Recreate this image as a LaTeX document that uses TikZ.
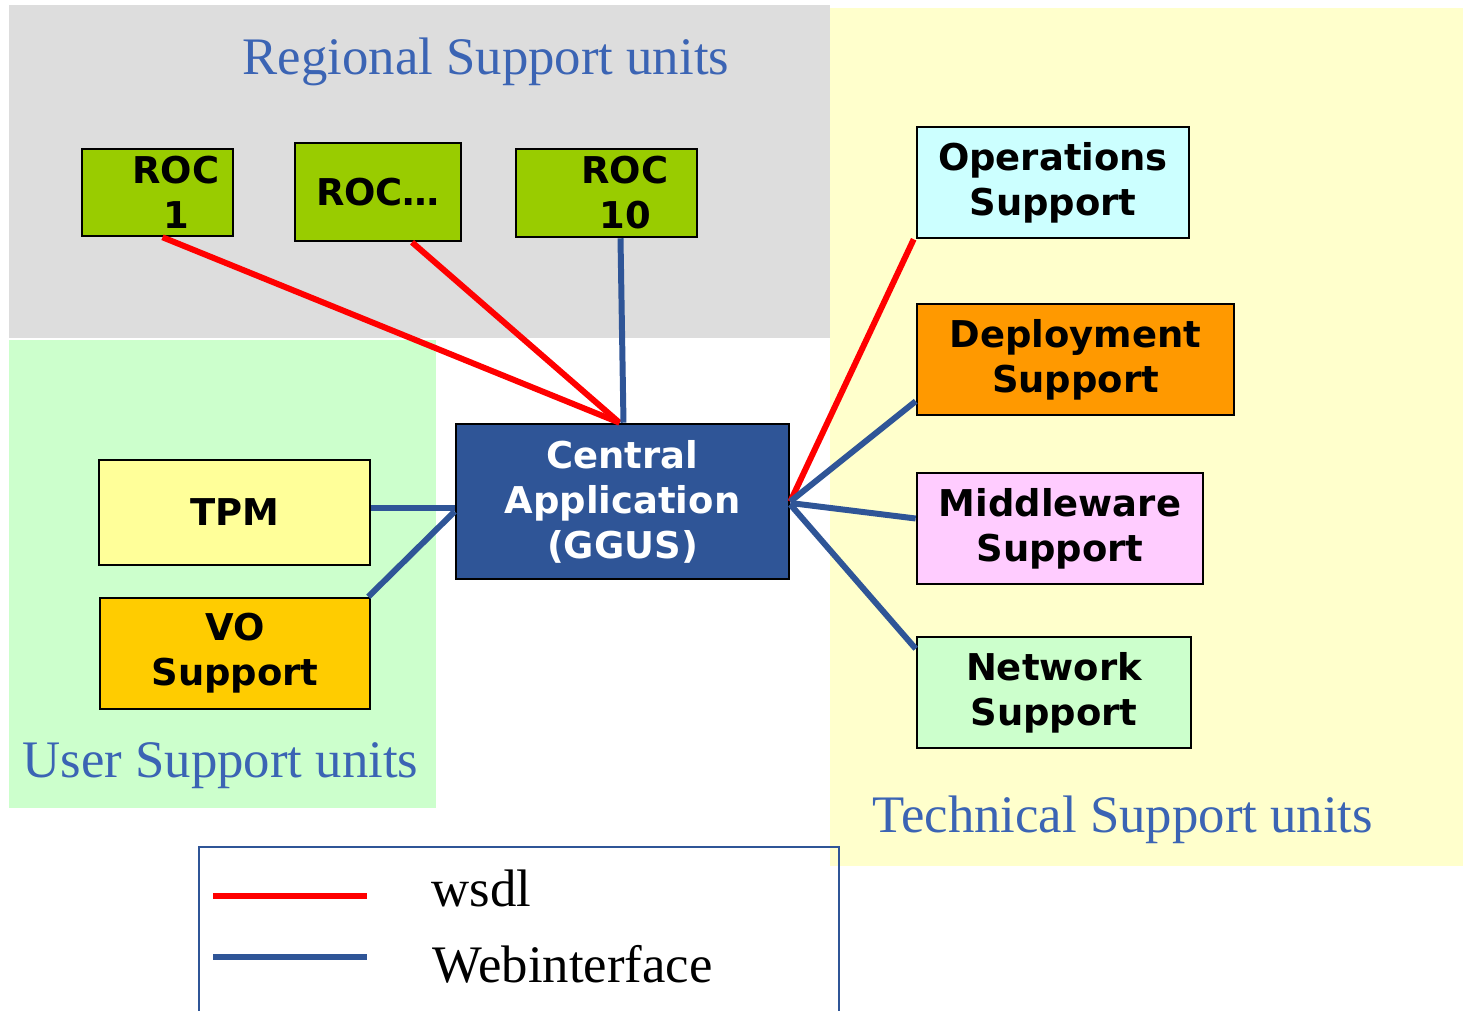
\documentclass[tikz,border=0pt]{standalone}
\usepackage{fontspec}
\setmainfont{Liberation Serif}
\newfontfamily\unitfont{DejaVu Sans}
\usepackage{tikz}
\usetikzlibrary{calc}

\definecolor{regionbg}{HTML}{DDDDDD}
\definecolor{userbg}{HTML}{CCFFCC}
\definecolor{techbg}{HTML}{FFFFCC}
\definecolor{rocgreen}{HTML}{99CC00}
\definecolor{opscyan}{HTML}{CCFFFF}
\definecolor{deporange}{HTML}{FF9900}
\definecolor{mwpink}{HTML}{FFCCFF}
\definecolor{netgreen}{HTML}{CCFFCC}
\definecolor{tpmyellow}{HTML}{FFFF99}
\definecolor{vogold}{HTML}{FFCC00}
\definecolor{ggusblue}{HTML}{2F5597}
\definecolor{titleblue}{HTML}{3B64B4}

\tikzset{
  unit/.style={draw=black, line width=0.7pt, inner sep=0pt, align=center,
    font=\unitfont\bfseries\fontsize{10.5}{12.8}\selectfont},
  roc/.style={unit, fill=rocgreen},
  roctext/.style={inner sep=0pt, align=center, font=\unitfont\bfseries\fontsize{10.5}{12.8}\selectfont},
  title/.style={text=titleblue, inner sep=0pt, anchor=base west, font=\fontsize{15}{18}\selectfont},
  legendtext/.style={inner sep=0pt, anchor=base west, font=\fontsize{15}{18}\selectfont},
  wsdl/.style={draw=red, line width=1.7pt},
  web/.style={draw=ggusblue, line width=1.7pt},
}

\begin{document}
\begin{tikzpicture}[x=0.01cm,y=-0.01cm]
  \useasboundingbox (0,0) rectangle (1468,1011);

  % support areas
  \fill[regionbg] (9,5) rectangle (830,338);
  \fill[techbg] (830,8) rectangle (1463,866);
  \fill[userbg] (9,340) rectangle (436,808);

  \draw (242,74) node[title] (regtitle) {Regional Support units};
  \draw (22,777) node[title] (usertitle) {User Support units};
  \draw (872,832) node[title] (techtitle) {Technical Support units};

  \draw (157.5,192.5) node[roc, minimum width=1.51cm, minimum height=0.87cm] (roc1) {};
  \draw (176,192.5) node[roctext] (roc1txt) {ROC\\1};
  \draw (378,192) node[roc, minimum width=1.66cm, minimum height=0.98cm] (rocdots) {ROC\ldots};
  \draw (606.5,193) node[roc, minimum width=1.81cm, minimum height=0.88cm] (roc10) {};
  \draw (625,193) node[roctext] (roc10txt) {ROC\\10};

  \draw (622.5,501.5) node[unit, fill=ggusblue, text=white, minimum width=3.33cm, minimum height=1.55cm] (ggus) {Central\\Application\\(GGUS)};

  \draw (234.5,512.5) node[unit, fill=tpmyellow, minimum width=2.71cm, minimum height=1.05cm] (tpm) {TPM};
  \draw (235,653.5) node[unit, fill=vogold, minimum width=2.70cm, minimum height=1.11cm] (vo) {VO\\Support};

  \draw (1053,182.5) node[unit, fill=opscyan, minimum width=2.72cm, minimum height=1.11cm] (ops) {Operations\\Support};
  \draw (1075.5,359.5) node[unit, fill=deporange, minimum width=3.17cm, minimum height=1.11cm] (dep) {Deployment\\Support};
  \draw (1060,528.5) node[unit, fill=mwpink, minimum width=2.86cm, minimum height=1.11cm] (mw) {Middleware\\Support};
  \draw (1054,692.5) node[unit, fill=netgreen, minimum width=2.74cm, minimum height=1.11cm] (net) {Network\\Support};

  \path[wsdl] ([xshift=0.05cm]roc1.south) edge ([xshift=-0.03cm]ggus.north);
  \path[wsdl] ([xshift=0.34cm]rocdots.south) edge ([xshift=-0.03cm]ggus.north);
  \path[web] ([xshift=0.14cm]roc10.south) edge ([xshift=0.01cm]ggus.north);
  \path[web] ([yshift=0.045cm]tpm.east) edge ([yshift=0.045cm]tpm.east -| ggus.west);
  \path[web] ([xshift=-0.03cm]vo.north east) edge ([yshift=-0.1cm]ggus.west);
  \path[wsdl] (ggus.east) edge ([xshift=-0.02cm]ops.south west);
  \path[web] (ggus.east) edge ([yshift=0.15cm]dep.south west);
  \path[web] ([yshift=-0.015cm]ggus.east) edge ([yshift=0.1cm]mw.west);
  \path[web] ([yshift=-0.03cm]ggus.east) edge ([yshift=-0.13cm]net.north west);

  % legend
  \draw[ggusblue, line width=0.5pt] (199,1011) |- (839,847) -- (839,1011);
  \coordinate (wsdlstart) at (213,896);
  \coordinate (wsdlend) at (367,896);
  \coordinate (webstart) at (213,957);
  \coordinate (webend) at (367,957);
  \path[wsdl, line width=1.9pt] (wsdlstart) edge (wsdlend);
  \path[web, line width=1.9pt] (webstart) edge (webend);
  \draw (431,906) node[legendtext] (wsdltxt) {wsdl};
  \draw (432,982) node[legendtext] (webtxt) {Webinterface};
\end{tikzpicture}
\end{document}
